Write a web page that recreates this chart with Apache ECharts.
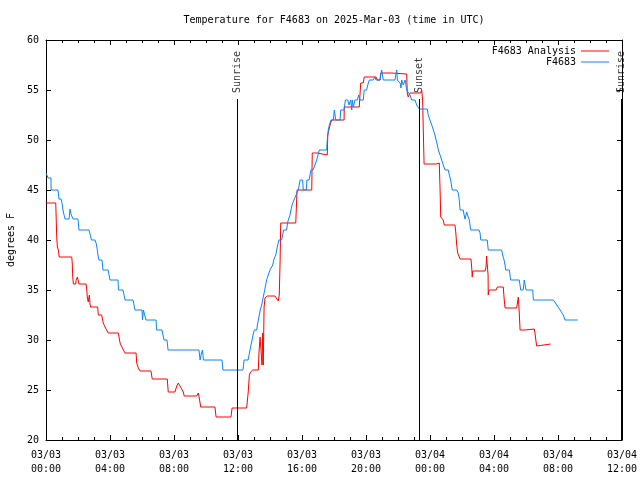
<!DOCTYPE html>
<html>
<head>
<meta charset="utf-8">
<script src="https://cdn.jsdelivr.net/npm/echarts@6/dist/echarts.min.js"></script>
<style>html,body{margin:0;padding:0;background:#fff}#c{width:640px;height:480px}</style>
</head>
<body>
<div id="c"></div>
<script>
// Hours since 2025-03-03 00:00 UTC
const obsHours = [0.00,0.13,0.31,0.32,0.75,0.81,0.94,1.00,1.06,1.13,1.19,1.44,1.50,1.56,1.69,2.00,2.06,2.69,2.75,2.84,3.06,3.13,3.19,3.25,3.31,3.50,3.56,3.88,3.94,4.00,4.50,4.53,4.81,4.88,4.94,5.44,5.50,5.56,6.00,6.03,6.09,6.16,6.25,6.88,6.91,7.25,7.31,7.38,7.56,7.63,9.56,9.63,9.69,9.78,9.84,11.00,11.06,12.31,12.38,12.63,12.69,12.75,12.81,12.88,12.94,13.02,13.17,13.21,13.27,13.33,13.39,13.48,13.54,13.67,13.73,13.79,13.89,14.00,14.11,14.17,14.23,14.29,14.36,14.42,14.48,14.56,14.73,14.79,14.86,15.04,15.08,15.14,15.21,15.25,15.31,15.38,15.50,15.63,15.77,15.88,16.04,16.08,16.27,16.31,16.44,16.56,16.69,16.81,16.92,17.08,17.54,17.58,17.64,17.71,17.81,17.96,18.02,18.11,18.38,18.42,18.63,18.71,18.86,18.94,19.04,19.11,19.14,19.21,19.31,19.46,19.54,19.63,19.83,19.89,20.04,20.11,20.21,20.46,20.56,20.63,20.88,20.94,20.98,21.08,21.81,21.92,21.96,22.08,22.13,22.19,22.23,22.33,22.44,22.48,22.54,22.75,22.86,23.06,23.17,23.33,23.83,23.89,24.00,24.11,24.21,24.31,24.38,24.46,24.52,24.63,24.73,24.83,24.94,25.14,25.21,25.29,25.39,25.67,25.77,25.83,25.88,26.08,26.13,26.19,26.29,26.36,26.39,26.46,26.54,27.06,27.13,27.17,27.58,27.64,28.48,28.54,28.63,28.69,28.73,28.96,29.04,29.58,29.67,29.83,29.89,29.98,30.00,30.42,30.46,31.71,31.81,31.92,32.02,32.13,32.23,32.33,32.44,33.23];
const obsTemps = [46.7,46.2,46.2,45,45,44.1,44.1,43.7,43,42.5,42.1,42.1,43.1,42.6,42.1,42.1,41,41,41.1,40,40,39.7,39.2,38.5,38,38,37,37,36.5,36,36,35,35,34.5,34,34,33.5,33,33,32,33,33,32,32,31,31,30.5,30,30,29,29,28,28.5,29,28,28,27,27,28,28,28.5,29,29.5,30,30.5,31,31,31.5,32,32.5,33,33.5,34,35,35.5,36,36.5,37,37,37.5,38,38,38.5,39,39.5,40,40,40.5,41,41,41.5,42,42,42.5,43,43.5,44,44.5,45,46,46,45,45,46,46,47,47,47.5,48,49,49,50,51,51.5,52,52,53,52,52,53,53,54,54,53.5,54,53,54,53.3,54,54,54.5,54,54,55,55,55.5,56,56,56.3,56,56,56.7,57,56,56,57,56,56,55.7,55.2,56,55.5,56,55.7,55,54.5,54,54,53.5,53.1,53.1,52.5,52,51.5,51,50.5,50,49.5,49,48.5,48,47.5,47,47,46.5,46,45,45,44.7,44,43,43,42.5,42.1,42.8,43,42.3,42,41,41,40.7,40,40,39,39,38.5,38,37.5,37,37,36,36,35,35,36,36,35,35,34,34,33.8,33.5,33.3,33,32.8,32.5,32,32];

const anaHours = [0.00,0.61,0.63,0.67,0.71,0.77,0.83,1.61,1.64,1.67,1.71,1.86,1.88,1.96,2.02,2.06,2.50,2.54,2.58,2.64,2.71,2.75,2.79,3.06,3.17,3.23,3.27,3.48,3.54,3.58,3.69,3.79,3.89,4.52,4.58,4.63,4.71,4.83,4.94,5.63,5.67,5.77,5.88,6.56,6.64,7.58,7.64,8.06,8.17,8.27,8.38,8.48,8.58,8.64,9.42,9.52,9.58,9.67,10.56,10.63,11.56,11.63,12.54,12.64,12.71,12.79,12.92,13.27,13.31,13.38,13.46,13.50,13.54,13.58,13.63,13.69,13.83,14.31,14.42,14.52,14.58,14.63,14.67,15.61,15.69,16.61,16.64,16.96,17.02,17.58,17.61,17.75,17.86,18.63,18.64,19.58,19.63,19.67,19.83,19.89,20.63,20.71,20.88,20.92,21.61,21.63,22.54,22.58,22.64,22.71,22.75,23.42,23.48,23.54,23.58,23.63,24.38,24.46,24.58,24.63,24.67,24.73,24.83,24.89,25.56,25.61,25.67,25.73,25.83,25.88,26.56,26.61,26.64,26.67,27.44,27.50,27.54,27.58,27.63,27.64,27.69,28.13,28.21,28.58,28.63,28.69,29.42,29.46,29.52,29.58,29.63,29.94,30.00,30.52,30.56,30.63,30.67,30.73,31.54];
const anaTemps = [43.7,43.7,42.5,40.3,39.3,39,38.3,38.3,37.7,36.3,35.6,35.6,36,36.3,36.5,35.6,35.6,35.2,34.3,33.8,34.5,33.6,33.3,33.3,33.5,33.3,32.5,32.5,32.7,31.7,31.3,31.2,30.7,30.7,30.8,29.7,29.4,29.3,28.7,28.7,27.7,27.2,26.9,26.9,26.1,26.1,24.8,24.8,25.4,25.7,25.6,25.1,24.8,24.4,24.4,24.7,24.2,23.3,23.3,22.3,22.3,23.2,23.2,24.8,26.5,26.8,27,27,28.7,30.3,30.3,27.5,30.7,27.5,33.3,34.2,34.4,34.4,34.2,33.9,34.5,37.8,41.7,41.7,45,45,48.7,48.7,48.5,48.5,50.5,51.5,52,52,53.3,53.3,54.7,55.7,55.7,56.3,56.3,56,56,56.7,56.7,56.6,56.6,54.7,54.3,54.5,54.7,54.7,55,54,51,47.6,47.6,47.8,47.7,45,42.3,42.2,42,41.5,41.5,40.8,39.5,38.7,38.5,38.1,38.1,37.2,36.3,36.9,36.9,37.3,38.4,37.5,36.5,34.5,35,35,35.3,35.3,34.2,33.2,33.2,33.4,34.3,32.7,31,31,31.1,31.1,30.7,29.8,29.4,29.6,29.6];

const eventNames = ['Sunrise', 'Sunset', 'Sunrise'];
const eventHours = [11.94, 23.33, 35.94];

const xTickLabels = ['03/03\n00:00','03/03\n04:00','03/03\n08:00','03/03\n12:00','03/03\n16:00','03/03\n20:00','03/04\n00:00','03/04\n04:00','03/04\n08:00','03/04\n12:00'];

const FONT = 'DejaVu Sans Mono';
const zip = (a, b) => a.map((v, i) => [v, b[i]]);
const sunLineTop = 54.1;

const xCommon = {
  type: 'value', min: 0, max: 36, interval: 4,
  axisLine: { show: true, onZero: false, lineStyle: { color: '#000', width: 1 } },
  axisTick: { show: true, inside: true, length: 5, lineStyle: { color: '#000' } },
  minorTick: { show: true, splitNumber: 4, length: 3, lineStyle: { color: '#000' } },
  splitLine: { show: false }, minorSplitLine: { show: false }
};
const yCommon = {
  type: 'value', min: 20, max: 60, interval: 5,
  axisLine: { show: true, onZero: false, lineStyle: { color: '#000', width: 1 } },
  axisTick: { show: true, inside: true, length: 5, lineStyle: { color: '#000' } },
  splitLine: { show: false }
};

const chart = echarts.init(document.getElementById('c'), null, { renderer: 'canvas' });
chart.setOption({
  animation: false,
  backgroundColor: '#fff',
  title: {
    text: 'Temperature for F4683 on 2025-Mar-03 (time in UTC)',
    left: 329, top: 10, textAlign: 'center',
    textStyle: { fontFamily: FONT, fontSize: 10, fontWeight: 'normal', color: '#000' }
  },
  grid: { left: 46, right: 18, top: 40, bottom: 40, containLabel: false, outerBoundsMode: 'none' },
  legend: [
    { data: ['F4683 Analysis'], right: 31, top: 46, align: 'right', itemWidth: 28, itemHeight: 1, icon: 'rect', itemGap: 0, padding: 0,
      textStyle: { fontFamily: FONT, fontSize: 10, color: '#000' } },
    { data: ['F4683'], right: 31, top: 57, align: 'right', itemWidth: 28, itemHeight: 1, icon: 'rect', itemGap: 0, padding: 0,
      textStyle: { fontFamily: FONT, fontSize: 10, color: '#000' } }
  ],
  xAxis: [
    Object.assign({}, xCommon, {
      position: 'bottom',
      axisLabel: { show: true, margin: 8, fontFamily: FONT, fontSize: 10, lineHeight: 14, color: '#000',
        showMinLabel: true, showMaxLabel: true, hideOverlap: false,
        formatter: v => xTickLabels[Math.round(v / 4)] }
    }),
    Object.assign({}, xCommon, { position: 'top', axisLabel: { show: false } })
  ],
  yAxis: [
    Object.assign({}, yCommon, {
      position: 'left',
      name: 'degrees F', nameLocation: 'middle', nameGap: 30, nameRotate: 90,
      nameTextStyle: { fontFamily: FONT, fontSize: 10, color: '#000' },
      axisLabel: { show: true, margin: 7, fontFamily: FONT, fontSize: 10, color: '#000' }
    }),
    Object.assign({}, yCommon, { position: 'right', axisLabel: { show: false } })
  ],
  series: [
    {
      name: 'F4683 Analysis', type: 'line', xAxisIndex: 0, yAxisIndex: 0,
      data: zip(anaHours, anaTemps), showSymbol: false, symbol: 'none',
      lineStyle: { color: '#ff0000', width: 1 }, itemStyle: { color: '#ff0000' }, z: 3
    },
    {
      name: 'F4683', type: 'line', xAxisIndex: 0, yAxisIndex: 0,
      data: zip(obsHours, obsTemps), showSymbol: false, symbol: 'none',
      lineStyle: { color: '#0a84ff', width: 1 }, itemStyle: { color: '#0a84ff' }, z: 4
    },
    {
      name: 'events', type: 'scatter', xAxisIndex: 0, yAxisIndex: 0,
      data: eventHours.map(h => [h, sunLineTop]), symbolSize: 0, silent: true,
      label: {
        show: true, position: 'top', distance: 6, rotate: 90, align: 'left', verticalAlign: 'middle',
        fontFamily: FONT, fontSize: 10, color: '#000',
        formatter: p => eventNames[p.dataIndex]
      },
      markLine: {
        silent: true, symbol: 'none', animation: false,
        label: { show: false },
        lineStyle: { color: '#000', width: 1, type: 'solid' },
        data: eventHours.map(h => [{ coord: [h, 20] }, { coord: [h, sunLineTop] }])
      }
    }
  ]
});
</script>
</body>
</html>
